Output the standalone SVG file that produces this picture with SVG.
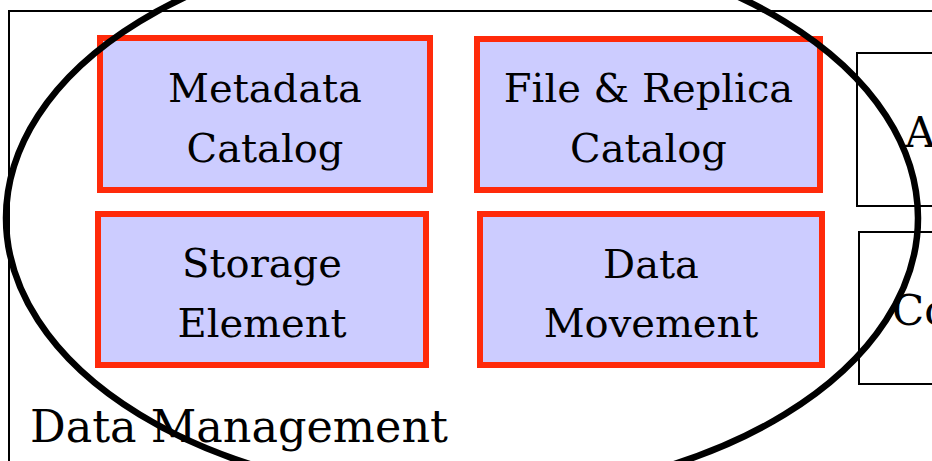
<svg xmlns="http://www.w3.org/2000/svg" width="932" height="461" viewBox="0 0 932 461">
  <style>
    .frame { fill: #ffffff; stroke: #000000; stroke-width: 2; }
    .comp { fill: #ccccff; stroke: #ff2a0a; stroke-width: 6; }
    .label { font-family: "DejaVu Serif", "Liberation Serif", serif; font-size: 40px; fill: #000000; text-anchor: middle; }
    .side { font-family: "DejaVu Serif", "Liberation Serif", serif; font-size: 42px; fill: #000000; }
    .title { font-family: "DejaVu Serif", "Liberation Serif", serif; font-size: 44.5px; fill: #000000; }
    .ring { fill: none; stroke: #000000; stroke-width: 6.5; }
  </style>
  <rect width="932" height="461" fill="#ffffff"/>

  <!-- Data Management container -->
  <g id="data-management">
    <rect class="frame" x="9" y="11" width="940" height="470"/>
    <text class="title" x="30" y="442">Data Management</text>
  </g>

  <g id="metadata-catalog">
    <rect class="comp" x="100" y="38" width="330" height="152"/>
    <text class="label" x="265" y="102">Metadata</text>
    <text class="label" x="265" y="162">Catalog</text>
  </g>

  <g id="file-replica-catalog">
    <rect class="comp" x="477" y="39" width="343" height="151"/>
    <text class="label" x="648.5" y="102">File &amp; Replica</text>
    <text class="label" x="648.5" y="162">Catalog</text>
  </g>

  <g id="storage-element">
    <rect class="comp" x="98" y="214" width="328" height="151"/>
    <text class="label" x="262" y="277">Storage</text>
    <text class="label" x="262" y="337">Element</text>
  </g>

  <g id="data-movement">
    <rect class="comp" x="480" y="214" width="342" height="151"/>
    <text class="label" x="651" y="278">Data</text>
    <text class="label" x="651" y="337">Movement</text>
  </g>

  <!-- neighbouring services, cut off at the right edge -->
  <g id="service-a">
    <rect class="frame" x="857" y="53" width="120" height="153"/>
    <text class="side" x="905" y="147">A</text>
  </g>

  <g id="service-co">
    <rect class="frame" x="859" y="232" width="120" height="152"/>
    <text class="side" x="892" y="325">Co</text>
  </g>

  <!-- highlight ring drawn over the components -->
  <g id="connectors">
    <ellipse class="ring" cx="462" cy="218" rx="456" ry="278"/>
  </g>
</svg>
